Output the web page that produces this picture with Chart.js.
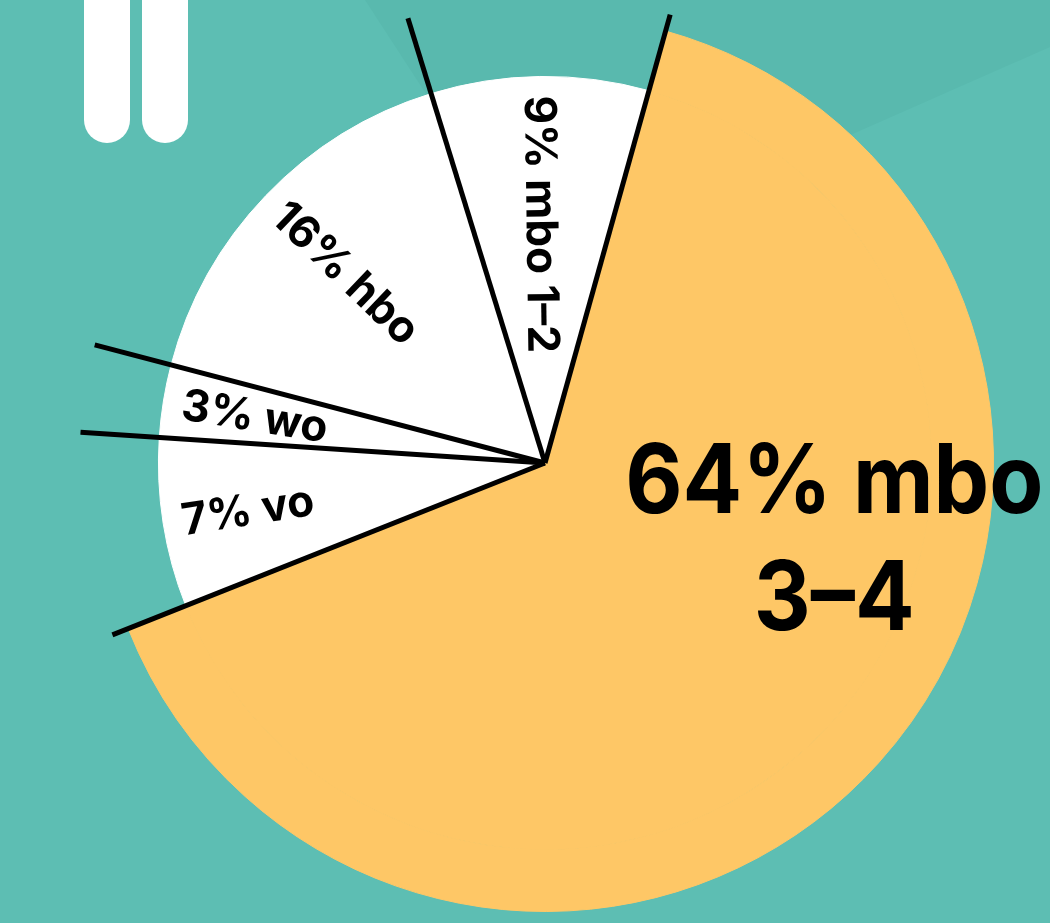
<!DOCTYPE html>
<html>
<head>
<meta charset="utf-8">
<script src="https://cdn.jsdelivr.net/npm/chart.js@4.4.1/dist/chart.umd.min.js"></script>
<style>
  html, body { margin: 0; padding: 0; }
  body {
    width: 1050px; height: 923px; overflow: hidden; position: relative;
    background: #5dbeb3;
  }
  .shade {
    position: absolute; left: 0; top: 0; width: 1050px; height: 923px;
    background: #59b9ae;
    clip-path: polygon(365px 0, 1050px 0, 1050px 47px, 760px 175px, 560px 300px);
  }
  .bar {
    position: absolute; top: -40px; width: 46px; height: 183px;
    background: #fff; border-radius: 23px;
  }
  #pieChart { position: absolute; left: 0; top: 0; }
</style>
</head>
<body>
<div class="shade"></div>
<div class="bar" style="left:84px"></div>
<div class="bar" style="left:142px"></div>
<canvas id="pieChart" width="1050" height="923"></canvas>
<script>
const categories = ["mbo 3–4", "vo", "wo", "hbo", "mbo 1–2"];
const shares = [64, 7, 3, 16, 9];
const sliceColors = ["#fec766", "#ffffff", "#ffffff", "#ffffff", "#ffffff"];

// outer ring only shows the big slice, so it sticks out past the others
const ringColors = sliceColors.map((c, i) => i === 0 ? c : "rgba(0,0,0,0)");

const labelFont = "'Inter', 'Noto Sans', sans-serif";

const sliceLines = {
  id: "sliceLines",
  afterDatasetsDraw(chart) {
    const ctx = chart.ctx;
    const inner = chart.getDatasetMeta(1).data;
    const bigR = chart.getDatasetMeta(0).data[0].outerRadius;
    const len = bigR + 17;

    ctx.save();
    ctx.strokeStyle = "#000";
    ctx.lineWidth = 5;
    inner.forEach(arc => {
      ctx.beginPath();
      ctx.moveTo(arc.x, arc.y);
      ctx.lineTo(arc.x + Math.cos(arc.startAngle) * len, arc.y + Math.sin(arc.startAngle) * len);
      ctx.stroke();
    });

    ctx.fillStyle = "#000";
    inner.forEach((arc, i) => {
      if (i === 0) {
        // big slice label, two lines, kept horizontal
        const cx = arc.x + bigR * 0.645;
        const cy = arc.y + bigR * 0.11;
        ctx.save();
        ctx.translate(cx, cy);
        ctx.scale(0.92, 1);
        ctx.font = "700 96px " + labelFont;
        ctx.textAlign = "center";
        ctx.textBaseline = "alphabetic";
        const parts = categories[0].split(" ");
        ctx.fillText(shares[0] + "% " + parts[0], 0, 1);
        ctx.fillText(parts[1], 0, 118);
        ctx.restore();
        return;
      }
      const mid = (arc.startAngle + arc.endAngle) / 2;
      const r = arc.outerRadius - 19;
      ctx.save();
      ctx.translate(arc.x + Math.cos(mid) * r, arc.y + Math.sin(mid) * r);
      ctx.rotate(mid + Math.PI);
      ctx.font = "700 44px " + labelFont;
      ctx.textAlign = "left";
      ctx.textBaseline = "middle";
      ctx.fillText(shares[i] + "% " + categories[i], 0, 2);
      ctx.restore();
    });
    ctx.restore();
  }
};

new Chart(document.getElementById("pieChart"), {
  type: "pie",
  data: {
    labels: categories,
    datasets: [
      {
        data: shares,
        backgroundColor: ringColors,
        borderColor: ringColors,
        borderWidth: 1,
        weight: 62
      },
      {
        data: shares,
        backgroundColor: sliceColors,
        borderColor: sliceColors,
        borderWidth: 1,
        weight: 387
      }
    ]
  },
  options: {
    responsive: false,
    animation: false,
    events: [],
    rotation: 15.6,
    layout: { padding: { left: 40, right: 0, top: 14, bottom: 11 } },
    plugins: {
      legend: { display: false },
      tooltip: { enabled: false }
    }
  },
  plugins: [sliceLines]
});
</script>
</body>
</html>
